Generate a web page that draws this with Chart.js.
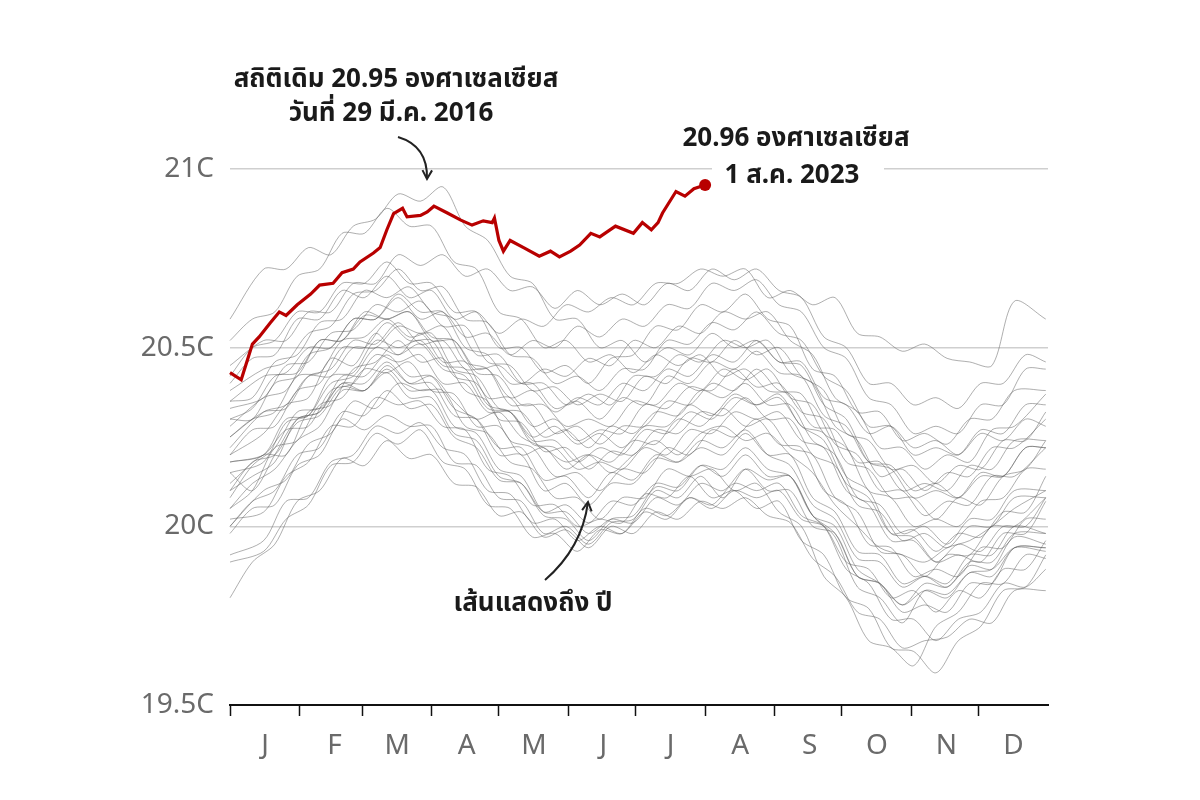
<!DOCTYPE html>
<html>
<head>
<meta charset="utf-8">
<script src="https://cdn.jsdelivr.net/npm/chart.js"></script>
<style>
  html, body { margin: 0; padding: 0; background: #fff; }
  #wrap { width: 1200px; height: 800px; }
</style>
</head>
<body>
<div id="wrap"><canvas id="chart" width="1200" height="800"></canvas></div>
<script>
// --- Data ---
const monthLabels = ["J", "F", "M", "A", "M", "J", "J", "A", "S", "O", "N", "D"];
const monthStarts = [0, 31, 59, 90, 120, 151, 181, 212, 243, 273, 304, 334];
const yTicks = [19.5, 20, 20.5, 21];

// 2023 (red), day of year
const redDays = [0,5,10,13,18,22,25,30,36,40,46,50,55,58,64,67,70,73,77,79,85,88,91,97,103,108,113,117,118,120,122,125,131,138,143,147,152,156,161,165,172,180,184,188,191,193,199,203,207,212];
const redVals = [20.43,20.41,20.51,20.53,20.57,20.60,20.59,20.62,20.65,20.675,20.68,20.71,20.72,20.74,20.765,20.78,20.83,20.875,20.89,20.866,20.87,20.88,20.896,20.877,20.857,20.843,20.855,20.85,20.863,20.80,20.77,20.80,20.78,20.756,20.77,20.754,20.77,20.787,20.82,20.81,20.84,20.82,20.85,20.83,20.85,20.877,20.937,20.924,20.945,20.955];

// earlier years (grey); two sampling grids, alternating between years
const greyDaysA = [0,10,20,30,40,50,60,70,80,90,100,110,120,130,140,150,160,170,180,190,200,210,220,230,240,250,260,270,280,290,300,310,320,330,340,350,364];
const greyDaysB = [0,15,25,35,45,55,65,75,85,95,105,115,125,135,145,155,165,175,185,195,205,215,225,235,245,255,265,275,285,295,305,315,325,335,345,355,364];

const g01 = [19.80,19.90,19.95,20.07,20.10,20.19,20.17,20.24,20.19,20.20,20.12,20.11,20.03,20.04,19.97,19.99,19.94,20.0,19.98,20.04,20.02,20.07,20.05,20.08,20.03,20.01,19.91,19.86,19.76,19.74,19.66,19.68,19.69,19.74,19.73,19.82,19.82];
const g02 = [19.90,19.93,20.02,20.06,20.17,20.18,20.26,20.23,20.27,20.18,20.16,20.06,20.05,19.97,19.98,19.93,19.99,19.98,20.05,20.03,20.08,20.06,20.12,20.1,20.12,20.03,20.0,19.88,19.84,19.74,19.74,19.68,19.74,19.76,19.84,19.83,19.88];
const g03 = [19.98,20.05,20.06,20.17,20.2,20.3,20.27,20.31,20.28,20.28,20.18,20.17,20.08,20.07,19.98,20.0,19.95,20.01,20.02,20.1,20.08,20.14,20.08,20.16,20.13,20.14,20.03,19.97,19.83,19.8,19.73,19.82,19.81,19.87,19.88,19.97,19.95];
const g04 = [20.02,20.04,20.14,20.18,20.28,20.28,20.36,20.34,20.35,20.28,20.27,20.16,20.14,20.06,20.06,20.0,20.02,20.01,20.09,20.08,20.14,20.08,20.1,20.05,20.07,19.96,19.92,19.8,19.77,19.66,19.65,19.59,19.68,19.72,19.82,19.83,19.92];
const g05 = [20.05,20.12,20.16,20.24,20.28,20.38,20.38,20.43,20.36,20.36,20.26,20.24,20.14,20.12,20.03,20.02,19.96,20.02,20.03,20.11,20.1,20.17,20.16,20.22,20.16,20.14,20.03,20.0,19.88,19.84,19.78,19.84,19.83,19.89,19.88,19.94,19.93];
const g06 = [20.0,20.1,20.13,20.23,20.26,20.35,20.33,20.4,20.38,20.38,20.28,20.26,20.18,20.16,20.08,20.08,20.02,20.08,20.08,20.16,20.14,20.16,20.1,20.12,20.04,20.0,19.86,19.8,19.68,19.66,19.61,19.72,19.76,19.84,19.84,19.92,19.91];
const g07 = [20.1,20.14,20.18,20.3,20.32,20.42,20.42,20.48,20.42,20.42,20.33,20.3,20.2,20.2,20.1,20.12,20.06,20.12,20.12,20.19,20.18,20.24,20.22,20.27,20.2,20.17,20.06,20.02,19.91,19.9,19.83,19.86,19.84,19.92,19.92,20.0,19.98];
const g08 = [20.12,20.2,20.2,20.32,20.34,20.44,20.46,20.52,20.46,20.47,20.38,20.35,20.24,20.22,20.14,20.15,20.1,20.16,20.15,20.22,20.2,20.27,20.25,20.3,20.23,20.22,20.1,20.06,19.95,19.94,19.86,19.88,19.86,19.94,19.94,20.02,20.02];
const g09 = [20.08,20.17,20.22,20.32,20.33,20.4,20.4,20.46,20.4,20.4,20.31,20.3,20.22,20.22,20.13,20.14,20.08,20.15,20.13,20.2,20.18,20.22,20.2,20.26,20.2,20.2,20.08,20.04,19.93,19.92,19.84,19.86,19.83,19.9,19.9,19.98,19.98];
const g10 = [20.18,20.2,20.3,20.31,20.42,20.43,20.52,20.5,20.52,20.45,20.44,20.34,20.32,20.23,20.22,20.16,20.18,20.16,20.22,20.2,20.27,20.26,20.32,20.3,20.32,20.24,20.22,20.1,20.06,19.96,19.96,19.9,19.95,19.93,20.0,20.0,20.08];
const g11 = [20.2,20.27,20.28,20.38,20.4,20.5,20.5,20.57,20.52,20.52,20.42,20.4,20.3,20.29,20.21,20.22,20.16,20.21,20.2,20.27,20.26,20.32,20.31,20.36,20.3,20.3,20.2,20.17,20.06,20.04,19.96,19.98,19.94,20.0,20.0,20.08,20.08];
const g12 = [20.15,20.18,20.29,20.31,20.4,20.42,20.5,20.48,20.51,20.44,20.42,20.33,20.32,20.24,20.24,20.18,20.22,20.2,20.27,20.26,20.32,20.3,20.36,20.34,20.37,20.28,20.26,20.14,20.1,19.98,19.97,19.9,19.92,19.9,19.98,19.98,20.07];
const g13 = [20.25,20.3,20.32,20.42,20.43,20.52,20.53,20.58,20.53,20.54,20.44,20.42,20.33,20.32,20.25,20.27,20.22,20.28,20.26,20.32,20.31,20.38,20.36,20.4,20.34,20.34,20.24,20.2,20.08,20.06,19.98,20.0,19.95,20.02,20.02,20.1,20.1];
const g14 = [20.22,20.32,20.34,20.42,20.42,20.5,20.5,20.56,20.54,20.56,20.46,20.44,20.34,20.34,20.26,20.28,20.23,20.28,20.28,20.35,20.34,20.4,20.38,20.44,20.38,20.37,20.26,20.22,20.1,20.08,20.0,20.02,20.0,20.07,20.08,20.16,20.16];
const g15 = [20.3,20.3,20.4,20.42,20.52,20.52,20.6,20.58,20.6,20.53,20.52,20.43,20.42,20.34,20.34,20.28,20.3,20.28,20.35,20.34,20.4,20.38,20.44,20.41,20.44,20.36,20.34,20.23,20.2,20.1,20.1,20.03,20.07,20.06,20.14,20.14,20.22];
const g16 = [20.28,20.36,20.38,20.48,20.5,20.58,20.58,20.65,20.6,20.6,20.5,20.48,20.4,20.4,20.33,20.35,20.3,20.36,20.34,20.42,20.4,20.46,20.44,20.49,20.43,20.42,20.31,20.28,20.18,20.17,20.1,20.12,20.08,20.14,20.14,20.22,20.22];
const g17 = [20.35,20.36,20.46,20.48,20.57,20.58,20.66,20.64,20.67,20.6,20.58,20.48,20.48,20.4,20.4,20.34,20.37,20.34,20.42,20.42,20.48,20.46,20.52,20.5,20.52,20.43,20.4,20.28,20.24,20.14,20.16,20.1,20.15,20.14,20.22,20.22,20.3];
const g18 = [20.38,20.44,20.46,20.54,20.56,20.65,20.66,20.72,20.66,20.67,20.58,20.57,20.48,20.47,20.4,20.42,20.38,20.44,20.44,20.52,20.51,20.57,20.55,20.6,20.54,20.52,20.42,20.38,20.28,20.28,20.2,20.22,20.2,20.27,20.26,20.34,20.34];
const g19 = [20.42,20.5,20.52,20.6,20.6,20.68,20.68,20.74,20.68,20.68,20.6,20.6,20.5,20.5,20.43,20.45,20.4,20.47,20.48,20.56,20.55,20.62,20.6,20.65,20.58,20.56,20.44,20.42,20.32,20.32,20.24,20.26,20.23,20.3,20.3,20.38,20.38];
const g20 = [20.58,20.72,20.72,20.78,20.76,20.84,20.86,20.93,20.91,20.95,20.84,20.8,20.7,20.68,20.58,20.58,20.5,20.52,20.46,20.5,20.48,20.54,20.5,20.52,20.46,20.46,20.36,20.34,20.26,20.28,20.22,20.24,20.2,20.26,20.24,20.3,20.28];
const g21 = [20.52,20.58,20.6,20.7,20.72,20.82,20.82,20.89,20.84,20.84,20.74,20.72,20.6,20.58,20.5,20.52,20.46,20.48,20.43,20.48,20.45,20.48,20.42,20.44,20.38,20.37,20.28,20.27,20.18,20.18,20.1,20.12,20.1,20.17,20.16,20.24,20.24];
const g22 = [20.45,20.52,20.52,20.6,20.6,20.68,20.68,20.76,20.73,20.76,20.7,20.72,20.66,20.67,20.61,20.66,20.62,20.65,20.62,20.68,20.66,20.72,20.69,20.72,20.66,20.64,20.53,20.5,20.4,20.4,20.34,20.36,20.33,20.4,20.4,20.48,20.46];
const g23 = [20.4,20.47,20.48,20.58,20.58,20.66,20.64,20.7,20.64,20.66,20.58,20.6,20.54,20.58,20.56,20.62,20.6,20.64,20.62,20.68,20.68,20.72,20.7,20.72,20.64,20.66,20.62,20.64,20.54,20.53,20.49,20.51,20.47,20.46,20.45,20.63,20.58];
const g24 = [20.35,20.42,20.43,20.5,20.5,20.58,20.58,20.64,20.58,20.6,20.53,20.54,20.48,20.52,20.5,20.56,20.53,20.58,20.56,20.62,20.61,20.68,20.66,20.69,20.62,20.6,20.5,20.47,20.36,20.34,20.26,20.28,20.26,20.34,20.34,20.44,20.44];
const g25 = [20.3,20.33,20.42,20.43,20.52,20.52,20.59,20.58,20.6,20.52,20.52,20.44,20.45,20.4,20.44,20.42,20.47,20.45,20.52,20.5,20.56,20.54,20.6,20.58,20.6,20.52,20.48,20.36,20.32,20.22,20.22,20.16,20.2,20.18,20.27,20.28,20.37];
const g26 = [20.25,20.32,20.33,20.42,20.44,20.52,20.51,20.57,20.51,20.52,20.44,20.44,20.36,20.38,20.32,20.36,20.34,20.4,20.38,20.44,20.42,20.48,20.46,20.52,20.46,20.45,20.34,20.3,20.18,20.16,20.08,20.1,20.08,20.15,20.14,20.22,20.22];
const g27 = [20.05,20.1,20.22,20.24,20.34,20.36,20.44,20.43,20.46,20.38,20.37,20.28,20.28,20.2,20.22,20.16,20.2,20.18,20.24,20.23,20.3,20.28,20.33,20.28,20.3,20.22,20.2,20.08,20.04,19.93,19.92,19.86,19.92,19.92,20.0,20.0,20.08];
const g28 = [19.92,19.96,20.07,20.08,20.18,20.2,20.28,20.26,20.29,20.22,20.2,20.1,20.09,20.01,20.02,19.96,20.0,19.98,20.04,20.02,20.08,20.05,20.1,20.08,20.1,20.02,20.0,19.9,19.88,19.8,19.82,19.76,19.82,19.8,19.88,19.88,19.96];
const g29 = [20.15,20.1,20.2,20.3,20.32,20.4,20.38,20.45,20.4,20.42,20.35,20.3,20.32,20.25,20.22,20.18,20.2,20.15,20.2,20.24,20.2,20.26,20.28,20.24,20.26,20.2,20.15,20.06,20.0,19.94,19.92,19.9,19.94,19.96,20.0,20.05,20.1];
const g30 = [20.2,20.26,20.34,20.36,20.47,20.45,20.54,20.48,20.54,20.46,20.46,20.36,20.36,20.28,20.3,20.24,20.27,20.26,20.34,20.33,20.39,20.38,20.44,20.39,20.4,20.32,20.3,20.18,20.16,20.08,20.08,20.02,20.08,20.06,20.14,20.16,20.24];
const g31 = [20.1,20.18,20.2,20.29,20.31,20.39,20.38,20.44,20.38,20.38,20.28,20.26,20.16,20.14,20.04,20.04,19.98,20.02,20.01,20.08,20.06,20.12,20.1,20.16,20.1,20.1,20.0,19.98,19.86,19.84,19.76,19.78,19.76,19.84,19.84,19.94,19.94];
const g32 = [20.18,20.2,20.27,20.28,20.38,20.4,20.48,20.46,20.48,20.4,20.4,20.32,20.32,20.25,20.28,20.23,20.26,20.22,20.28,20.28,20.34,20.31,20.37,20.34,20.36,20.28,20.24,20.12,20.08,19.98,19.99,19.93,19.98,19.97,20.04,20.04,20.14];
const g33 = [20.0,20.07,20.1,20.2,20.22,20.32,20.31,20.38,20.33,20.34,20.25,20.22,20.13,20.12,20.04,20.06,20.01,20.07,20.06,20.12,20.11,20.17,20.14,20.2,20.14,20.14,20.03,19.98,19.86,19.84,19.78,19.82,19.8,19.87,19.86,19.94,19.94];
const g34 = [20.33,20.36,20.45,20.46,20.54,20.55,20.62,20.6,20.63,20.56,20.56,20.46,20.45,20.38,20.39,20.34,20.37,20.35,20.42,20.4,20.47,20.46,20.52,20.48,20.5,20.42,20.38,20.26,20.24,20.16,20.17,20.12,20.17,20.16,20.24,20.24,20.32];

const greySeries = [g01,g02,g03,g04,g05,g06,g07,g08,g09,g10,g11,g12,g13,g14,g15,g16,g17,g18,g19,g20,g21,g22,g23,g24,g25,g26,g27,g28,g29,g30,g31,g32,g33,g34];

// --- Build datasets ---
const RED = "#b80000";
const FONT = "'Noto Sans', 'Noto Sans Thai', 'DejaVu Sans', sans-serif";

const redPoints = redDays.map((d, i) => ({ x: d, y: redVals[i] }));
const datasets = [
  {
    data: redPoints,
    borderColor: RED,
    backgroundColor: RED,
    borderWidth: 3.2,
    tension: 0,
    order: 0,
    clip: false,
    pointRadius: (c) => (c.dataIndex === redPoints.length - 1 ? 6 : 0),
    pointBorderWidth: 0,
  },
];
greySeries.forEach((vals, k) => {
  const days = k % 2 === 0 ? greyDaysA : greyDaysB;
  datasets.push({
    data: days.map((d, i) => ({ x: d, y: vals[i] })),
    borderColor: "rgba(95,95,95,0.5)",
    borderWidth: 1,
    tension: 0.3,
    pointRadius: 0,
    order: 1,
    clip: false,
  });
});

// --- Annotations ---
function arrow(ctx, x0, y0, cx, cy, x1, y1) {
  ctx.beginPath();
  ctx.moveTo(x0, y0);
  ctx.quadraticCurveTo(cx, cy, x1, y1);
  ctx.stroke();
  const ang = Math.atan2(y1 - cy, x1 - cx);
  const len = 10;
  ctx.beginPath();
  ctx.moveTo(x1 - len * Math.cos(ang - 0.5), y1 - len * Math.sin(ang - 0.5));
  ctx.lineTo(x1, y1);
  ctx.lineTo(x1 - len * Math.cos(ang + 0.5), y1 - len * Math.sin(ang + 0.5));
  ctx.stroke();
}

const notes = {
  id: "notes",
  beforeDatasetsDraw(chart) {
    const ctx = chart.ctx;
    ctx.save();
    ctx.fillStyle = "#fff";
    ctx.fillRect(712, 158, 172, 36);
    ctx.restore();
  },
  afterDatasetsDraw(chart) {
    const ctx = chart.ctx;
    ctx.save();
    ctx.fillStyle = "#1a1a1a";
    ctx.font = "bold 26px " + FONT;
    ctx.textAlign = "center";
    ctx.textBaseline = "middle";
    ctx.fillText("สถิติเดิม 20.95 องศาเซลเซียส", 396, 80);
    ctx.fillText("วันที่ 29 มี.ค. 2016", 391, 114);
    ctx.fillText("20.96 องศาเซลเซียส", 796, 139);
    ctx.fillText("1 ส.ค. 2023", 792, 176);
    ctx.fillText("เส้นแสดงถึง ปี", 533, 604);
    ctx.strokeStyle = "#222";
    ctx.lineWidth = 2;
    arrow(ctx, 398, 137, 428, 146, 427, 179);
    arrow(ctx, 545, 580, 582, 548, 588, 502);
    ctx.restore();
  },
};

// --- Chart ---
new Chart(document.getElementById("chart").getContext("2d"), {
  type: "line",
  data: { datasets },
  plugins: [notes],
  options: {
    responsive: false,
    devicePixelRatio: 1,
    animation: false,
    layout: { padding: { top: 169, right: 152, bottom: 0, left: 0 } },
    plugins: { legend: { display: false }, tooltip: { enabled: false } },
    scales: {
      x: {
        type: "linear",
        min: 0,
        max: 365,
        afterBuildTicks: (s) => { s.ticks = monthStarts.map((v) => ({ value: v })); },
        afterFit: (s) => { s.height = 95; },
        border: { display: true, color: "#111", width: 2 },
        grid: { drawOnChartArea: false, drawTicks: true, tickLength: 11, color: "#111", tickWidth: 1.5 },
        ticks: {
          autoSkip: false,
          maxRotation: 0,
          labelOffset: 35,
          padding: 13,
          color: "#6a6a6a",
          font: { size: 28, family: FONT },
          callback: (v, i) => monthLabels[i],
        },
      },
      y: {
        min: 19.5,
        max: 21,
        afterBuildTicks: (s) => { s.ticks = yTicks.map((v) => ({ value: v })); },
        afterFit: (s) => { s.width = 230; },
        border: { display: false },
        grid: {
          drawTicks: false,
          color: (c) => (c.tick && c.tick.value === 19.5 ? "rgba(0,0,0,0)" : "#cfcfcf"),
          lineWidth: 1.5,
        },
        ticks: {
          padding: 16,
          color: "#6a6a6a",
          font: { size: 28, family: FONT },
          callback: (v) => v + "C",
        },
      },
    },
  },
});
</script>
</body>
</html>
